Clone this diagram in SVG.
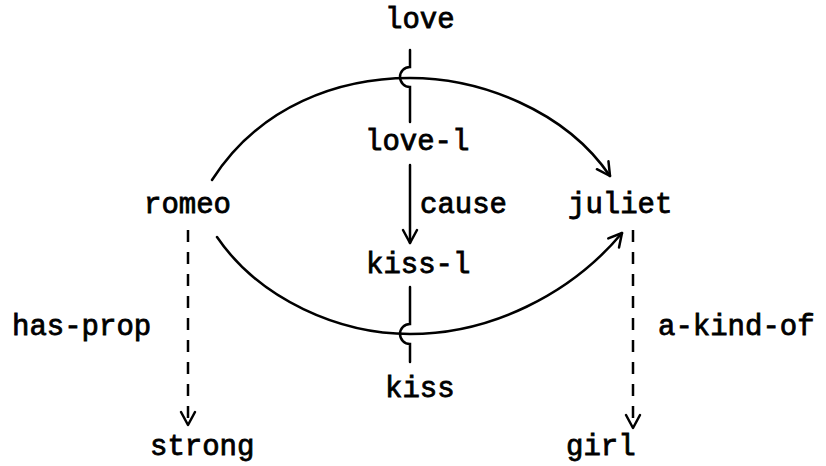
<svg xmlns="http://www.w3.org/2000/svg" width="826" height="466" viewBox="0 0 826 466">
<style>
text{font-family:"Liberation Mono","Courier New",monospace;font-size:29px;fill:#000;stroke:#000;stroke-width:0.8}
.ln{fill:none;stroke:#000;stroke-width:2.5;stroke-linecap:round}
.ds{fill:none;stroke:#000;stroke-width:2.5;stroke-dasharray:12 10}
</style>
<defs>
<marker id="ah" markerUnits="userSpaceOnUse" markerWidth="20" markerHeight="20" viewBox="-15 -10 20 20" refX="0" refY="0" orient="auto">
<path d="M-13,-7 L0,0 L-13,7" fill="none" stroke="#000" stroke-width="2.5" stroke-linecap="round" stroke-linejoin="round"/>
</marker>
</defs>
<rect width="826" height="466" fill="#fff"/>
<g id="connectors">
<path class="ln" d="M212,180 C260,105 340,78 410,78 C480,78 565,110 610,176" marker-end="url(#ah)"/>
<path class="ln" d="M217,237 C260,300 340,334 410,334 C490,334 570,295 622,233" marker-end="url(#ah)"/>
<path class="ln" d="M410,50 V67 A10,10 0 0,0 410,87 V122"/>
<path class="ln" d="M410,165 V243" marker-end="url(#ah)"/>
<path class="ln" d="M410,287 V324 A10,10 0 0,0 410,344 V362"/>
<path class="ds" d="M188,230 V425" marker-end="url(#ah)"/>
<path class="ds" d="M633,230 V428" marker-end="url(#ah)"/>
<text x="420" y="213">cause</text>
<text x="12" y="335">has-prop</text>
<text x="658" y="335">a-kind-of</text>
</g>
<g id="love"><text x="385" y="28">love</text></g>
<g id="love-l"><text x="365" y="150">love-l</text></g>
<g id="romeo"><text x="144" y="213">romeo</text></g>
<g id="juliet"><text x="568" y="213">juliet</text></g>
<g id="kiss-l"><text x="366" y="273">kiss-l</text></g>
<g id="kiss"><text x="385" y="397">kiss</text></g>
<g id="strong"><text x="150" y="455">strong</text></g>
<g id="girl"><text x="566" y="455">girl</text></g>
</svg>
